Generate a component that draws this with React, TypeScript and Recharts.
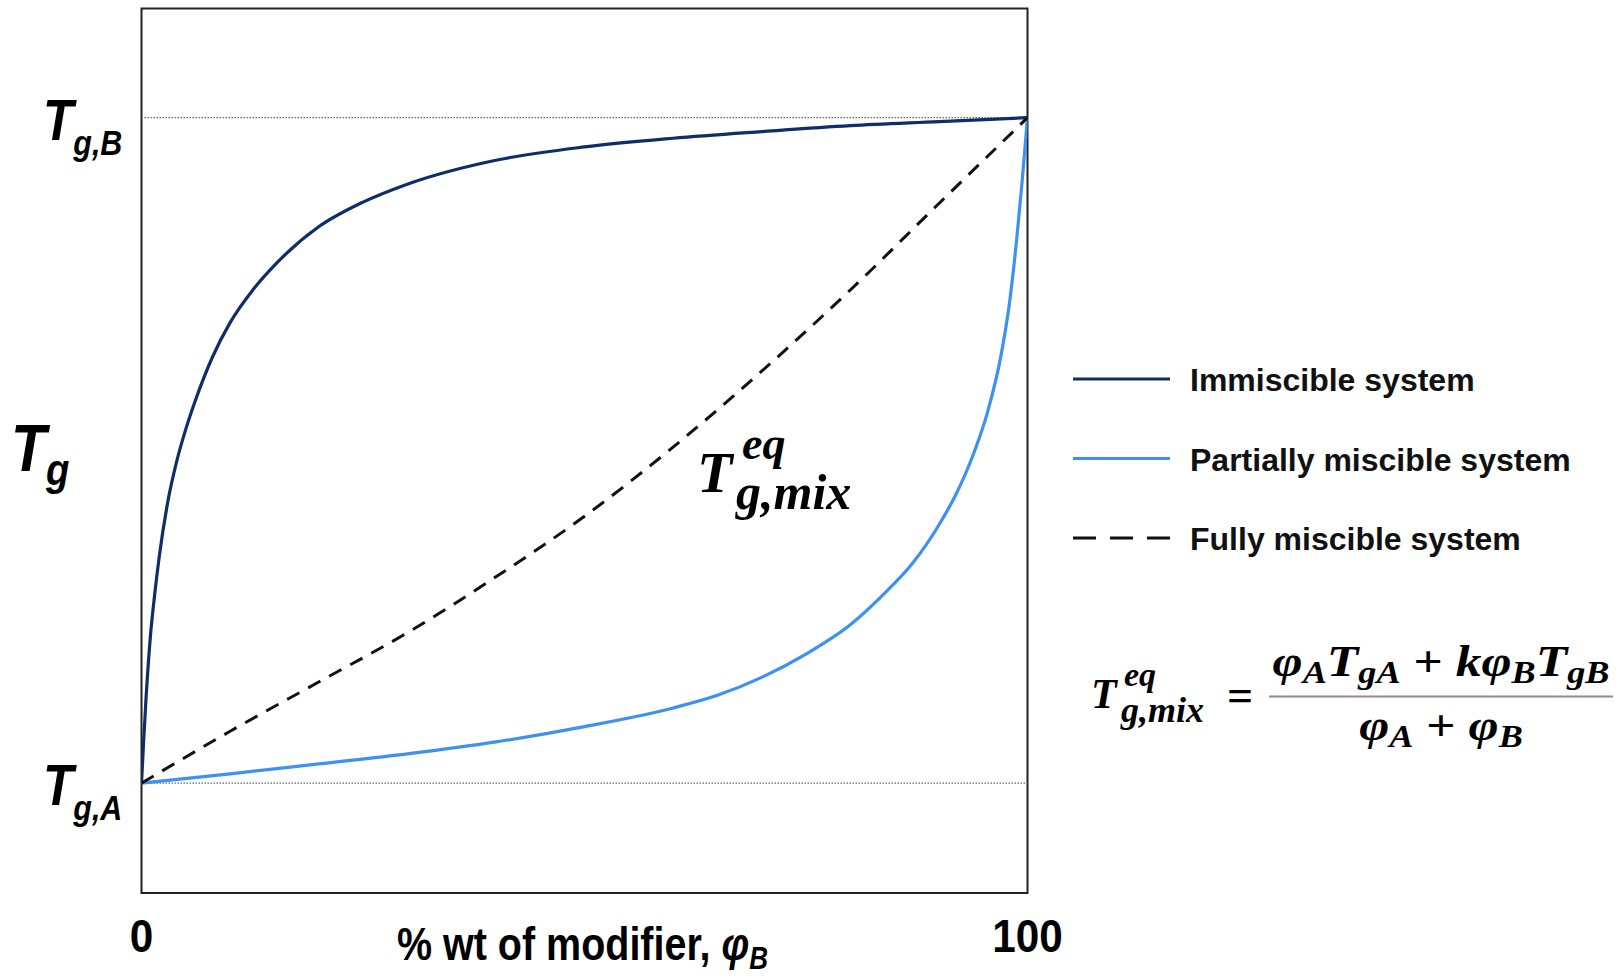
import React from 'react';
import {
  LineChart,
  Line,
  XAxis,
  YAxis,
  ReferenceLine,
  ReferenceArea,
  Legend,
} from 'recharts';

// % wt of modifier (phi_B) vs normalised Tg (0 = Tg,A, 100 = Tg,B)
const immiscibleX = [0, 0.25, 0.5, 1, 1.5, 2, 3, 4, 5, 6, 8, 10, 12.5, 15, 20, 25, 30, 40, 50, 60, 70, 80, 90, 100];
const immiscibleTg = [0, 6.5, 12.5, 22, 28.5, 34, 42.5, 48.5, 53.2, 57.2, 64, 69.2, 74, 77.8, 83.6, 87.3, 90, 93.6, 95.6, 96.9, 97.9, 98.8, 99.4, 100];

const partialX = [0, 10, 20, 30, 40, 50, 60, 65, 70, 75, 80, 84, 87, 90, 92, 94, 95.5, 97, 98, 98.8, 99.4, 100];
const partialTg = [0, 1.4, 2.9, 4.4, 6.2, 8.5, 11.3, 13.2, 15.9, 19.4, 23.8, 28.7, 33, 38.8, 43.6, 49.8, 55.8, 64.2, 72.5, 82, 90.5, 100];

const fullyX = [0, 10, 20, 30, 40, 50, 60, 70, 80, 90, 100];
const fullyTg = [0, 7.8, 15.2, 22.6, 31, 40.1, 50.5, 61.9, 74.1, 87.1, 100];

const xTicks = [0, 100];
const yTicks = [0, 100];
const yDomain = [-16.5, 116.4];

const seriesNames = ['Immiscible system', 'Partially miscible system', 'Fully miscible system'];

const NAVY = '#0f2d6b';
const LIGHT = '#3c91f2';
const DASH = '#111111';

const SANS = "'Liberation Sans', Arial, sans-serif";
const SERIF = "'Liberation Serif', 'Times New Roman', serif";

const toPoints = (xs: number[], ys: number[]) => xs.map((x, i) => ({ x, y: ys[i] }));

const immiscibleData = toPoints(immiscibleX, immiscibleTg);
const partialData = toPoints(partialX, partialTg);
const fullyData = toPoints(fullyX, fullyTg);

function XTick({ x, y, payload }: any) {
  return (
    <g transform={`translate(${x},${y + 59}) scale(0.9,1)`}>
      <text textAnchor="middle" fontFamily={SANS} fontWeight="bold" fontSize={47} fill="#000">
        {payload.value}
      </text>
    </g>
  );
}

function YTick({ y, payload }: any) {
  const sub = payload.value === 100 ? 'g,B' : 'g,A';
  return (
    <g transform={`translate(43,${y + 22}) scale(0.87,1)`}>
      <text fontFamily={SANS} fontWeight="bold" fontStyle="italic" fontSize={57} fill="#000">
        <tspan>T</tspan>
        <tspan fontSize={35} dy={15}>{sub}</tspan>
      </text>
    </g>
  );
}

function LegendBox({ payload }: any) {
  const dashes: Record<string, string | undefined> = {
    'Fully miscible system': '23 14',
  };
  const entries = seriesNames
    .map((name) => (payload || []).find((p: any) => p.value === name))
    .filter(Boolean);
  return (
    <svg width={550} height={240}>
      {entries.map((entry: any, i: number) => {
        const cy = 40 + i * 79.5;
        return (
          <g key={entry.value}>
            <line
              x1={0}
              x2={97}
              y1={cy}
              y2={cy}
              stroke={entry.color}
              strokeWidth={3}
              strokeDasharray={dashes[entry.value]}
            />
            <text x={117} y={cy + 12} fontFamily={SANS} fontWeight="bold" fontSize={32} fill="#111">
              {entry.value}
            </text>
          </g>
        );
      })}
    </svg>
  );
}

function Annotations() {
  return (
    <svg
      width={1623}
      height={976}
      style={{ position: 'absolute', left: 0, top: 0, pointerEvents: 'none' }}
    >
      {/* y axis title */}
      <g transform="translate(11,471) scale(0.87,1)">
        <text fontFamily={SANS} fontWeight="bold" fontStyle="italic" fontSize={66} fill="#000">
          <tspan>T</tspan>
          <tspan fontSize={44} dy={14}>g</tspan>
        </text>
      </g>

      {/* x axis title */}
      <g transform="translate(397,960) scale(0.84,1)">
        <text fontFamily={SANS} fontWeight="bold" fontSize={47} fill="#000">
          <tspan>% wt of modifier, </tspan>
          <tspan fontStyle="italic">φ</tspan>
          <tspan fontStyle="italic" fontSize={31} dy={9}>B</tspan>
        </text>
      </g>

      {/* label in the plot */}
      <g fontFamily={SERIF} fontWeight="bold" fontStyle="italic" fill="#000">
        <text x={697} y={492} fontSize={58}>T</text>
        <text x={742} y={459} fontSize={46}>eq</text>
        <text x={736} y={509} fontSize={50}>g,mix</text>
      </g>

      {/* equation */}
      <g fontFamily={SERIF} fontWeight="bold" fontStyle="italic" fill="#000">
        <text x={1091} y={708} fontSize={42}>T</text>
        <text x={1124} y={686} fontSize={34}>eq</text>
        <text x={1121} y={722} fontSize={36}>g,mix</text>
        <text x={1240} y={711} fontSize={46} fontStyle="normal" textAnchor="middle">=</text>
        <line x1={1269} x2={1613} y1={696.5} y2={696.5} stroke="#9e8585" strokeWidth={2} />
        <g transform="translate(1441,676) scale(1.17,1)">
          <text x={0} y={0} fontSize={44} textAnchor="middle">
            <tspan>φ</tspan>
            <tspan fontSize={31} dy={7}>A</tspan>
            <tspan dy={-7}>T</tspan>
            <tspan fontSize={31} dy={7}>gA</tspan>
            <tspan dy={-7} fontStyle="normal"> + </tspan>
            <tspan>kφ</tspan>
            <tspan fontSize={31} dy={7}>B</tspan>
            <tspan dy={-7}>T</tspan>
            <tspan fontSize={31} dy={7}>gB</tspan>
          </text>
        </g>
        <g transform="translate(1441,740) scale(1.17,1)">
          <text x={0} y={0} fontSize={44} textAnchor="middle">
            <tspan>φ</tspan>
            <tspan fontSize={31} dy={7}>A</tspan>
            <tspan dy={-7} fontStyle="normal"> + </tspan>
            <tspan>φ</tspan>
            <tspan fontSize={31} dy={7}>B</tspan>
          </text>
        </g>
      </g>
    </svg>
  );
}

export default function App() {
  return (
    <div style={{ position: 'absolute', left: 0, top: 0, width: 1623, height: 976, background: '#fff' }}>
      <LineChart width={1623} height={976} margin={{ top: 8.5, right: 595.5, bottom: 0, left: 0 }}>
        <XAxis
          type="number"
          dataKey="x"
          domain={[0, 100]}
          ticks={xTicks}
          height={83}
          axisLine={false}
          tickLine={false}
          tickSize={0}
          tickMargin={0}
          tick={<XTick />}
          allowDataOverflow
        />
        <YAxis
          type="number"
          dataKey="y"
          domain={yDomain}
          ticks={yTicks}
          width={141.5}
          axisLine={false}
          tickLine={false}
          tickSize={0}
          tickMargin={0}
          tick={<YTick />}
          allowDataOverflow
        />
        <ReferenceArea
          x1={0}
          x2={100}
          y1={yDomain[0]}
          y2={yDomain[1]}
          fill="none"
          fillOpacity={0}
          stroke="#222"
          strokeWidth={2}
          ifOverflow="visible"
        />
        <ReferenceLine y={100} stroke="#666" strokeWidth={1.2} strokeDasharray="1.5 1.5" />
        <ReferenceLine y={0} stroke="#666" strokeWidth={1.2} strokeDasharray="1.5 1.5" />
        <Legend
          layout="vertical"
          align="center"
          verticalAlign="middle"
          content={<LegendBox />}
          wrapperStyle={{ left: 1073, top: 339, width: 550, height: 240 }}
        />
        <Line
          data={immiscibleData}
          dataKey="y"
          name={seriesNames[0]}
          type="monotone"
          stroke={NAVY}
          strokeWidth={3.2}
          dot={false}
          isAnimationActive={false}
        />
        <Line
          data={partialData}
          dataKey="y"
          name={seriesNames[1]}
          type="monotone"
          stroke={LIGHT}
          strokeWidth={3.2}
          dot={false}
          isAnimationActive={false}
        />
        <Line
          data={fullyData}
          dataKey="y"
          name={seriesNames[2]}
          type="monotone"
          stroke={DASH}
          strokeWidth={3}
          strokeDasharray="14 10"
          dot={false}
          isAnimationActive={false}
        />
      </LineChart>
      <Annotations />
    </div>
  );
}
